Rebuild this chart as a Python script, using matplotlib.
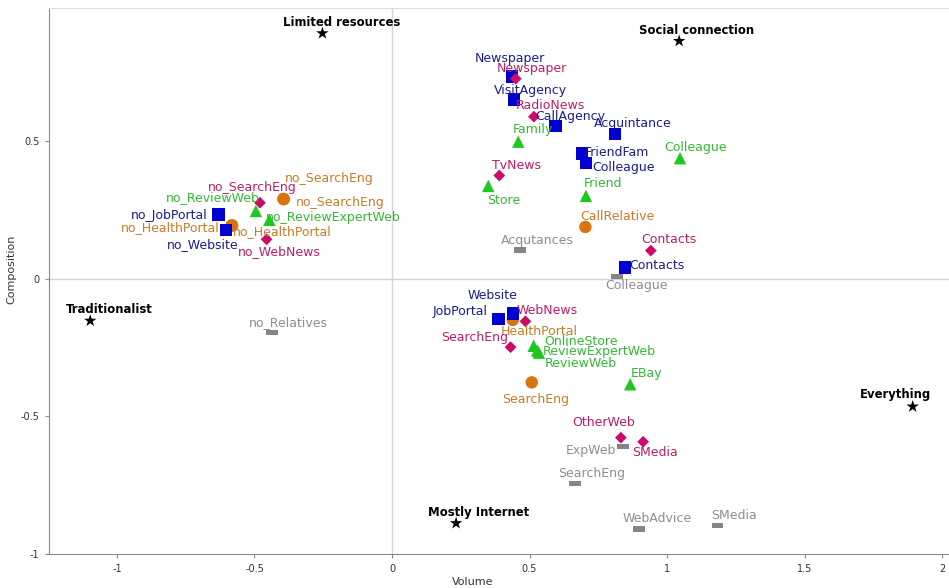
import matplotlib
matplotlib.use("Agg")
import matplotlib.pyplot as plt

# ---- data: coordinates on the two dimensions (Volume, Composition) ----
star_names = ["Limited resources", "Social connection", "Traditionalist", "Mostly Internet", "Everything"]
star_x = [-0.253, 1.044, -1.097, 0.233, 1.893]
star_y = [0.893, 0.865, -0.152, -0.888, -0.464]

blue_names = ["Newspaper", "VisitAgency", "CallAgency", "Acquintance", "FriendFam", "Colleague",
              "Contacts", "Website", "JobPortal", "no_JobPortal", "no_Website"]
blue_x = [0.437, 0.444, 0.595, 0.811, 0.690, 0.705, 0.847, 0.440, 0.387, -0.630, -0.604]
blue_y = [0.736, 0.653, 0.556, 0.527, 0.457, 0.421, 0.041, -0.125, -0.145, 0.235, 0.178]

pink_names = ["Newspaper", "RadioNews", "TvNews", "Contacts", "WebNews", "SearchEng",
              "OtherWeb", "SMedia", "no_SearchEng", "no_WebNews"]
pink_x = [0.450, 0.516, 0.390, 0.941, 0.485, 0.431, 0.832, 0.913, -0.480, -0.456]
pink_y = [0.728, 0.590, 0.376, 0.103, -0.154, -0.248, -0.577, -0.592, 0.277, 0.144]

green_names = ["Family", "Colleague", "Store", "Friend", "OnlineStore", "ReviewExpertWeb",
               "ReviewWeb", "EBay", "no_ReviewWeb", "no_ReviewExpertWeb"]
green_x = [0.459, 1.047, 0.350, 0.705, 0.515, 0.534, 0.528, 0.866, -0.495, -0.446]
green_y = [0.499, 0.439, 0.338, 0.302, -0.243, -0.268, -0.260, -0.383, 0.247, 0.215]

orange_names = ["CallRelative", "HealthPortal", "SearchEng", "no_SearchEng", "no_SearchEng",
                "no_HealthPortal", "no_HealthPortal"]
orange_x = [0.703, 0.439, 0.508, -0.395, -0.393, -0.583, -0.581]
orange_y = [0.189, -0.149, -0.376, 0.291, 0.290, 0.195, 0.194]

gray_names = ["Acqutances", "Colleague", "no_Relatives", "ExpWeb", "SearchEng", "WebAdvice", "SMedia"]
gray_x = [0.465, 0.819, -0.437, 0.840, 0.666, 0.897, 1.184]
gray_y = [0.105, 0.008, -0.194, -0.610, -0.743, -0.909, -0.895]

# ---- label placement: (dx, dy) of label centre from its marker, in pixels (y downwards) ----
star_off = [(19, -11), (17, -11), (19, -11), (22, -11), (-17, -12)]
blue_off = [(-2, -18), (16, -9), (15, -10), (18, -10), (35, -1), (38, 4),
            (32, -2), (-21, -18), (-38, -7), (-49, 1), (-23, 15)]
pink_off = [(16, -10), (16, -11), (17, -10), (18, -11), (22, -11), (-36, -10),
            (-17, -15), (12, 11), (-8, -15), (13, 12)]
green_off = [(15, -12), (16, -11), (15, 15), (17, -12), (47, -4), (60, -1),
             (44, 13), (16, -11), (-43, -13), (64, -2)]
orange_off = [(32, -10), (26, 12), (4, 17), (46, -20), (56, 3), (-61, 2), (50, 6)]
gray_off = [(17, -10), (19, 9), (17, -10), (-32, 4), (16, -10), (18, -10), (16, -10)]

plt.rcParams["font.family"] = ["DejaVu Sans"]

fig = plt.figure(figsize=(9.49, 5.88), dpi=100)
ax = fig.add_axes([49 / 949, 34 / 588, 900 / 949, 546 / 588])
ax.set_xlim(-1.247, 2.025)
ax.set_ylim(-1.0, 0.985)

# reference lines through the origin
ax.axhline(0, color="#d4d4d4", lw=1.0, zorder=0)
ax.axvline(0, color="#d4d4d4", lw=1.0, zorder=0)

label_fs = 9.0

def draw_series(xs, ys, names, offs, marker, size, mcolor, tcolor, bold=False, fs=label_fs):
    ax.scatter(xs, ys, marker=marker, s=size, color=mcolor, edgecolors="none", zorder=3)
    for x, y, name, (dx, dy) in zip(xs, ys, names, offs):
        ax.annotate(name, (x, y), xytext=(dx, -dy), textcoords="offset pixels",
                    ha="center", va="center", color=tcolor, fontsize=fs,
                    fontweight="bold" if bold else "normal", zorder=4)

bar_marker = [(-1, -0.45), (1, -0.45), (1, 0.45), (-1, 0.45), (-1, -0.45)]

draw_series(gray_x, gray_y, gray_names, gray_off, bar_marker, 70, "#858585", "#8e8e8e")
draw_series(orange_x, orange_y, orange_names, orange_off, "o", 80, "#d9740f", "#c97c26")
draw_series(green_x, green_y, green_names, green_off, "^", 80, "#1fc81f", "#34b834")
draw_series(blue_x, blue_y, blue_names, blue_off, "s", 82, "#0000d0", "#1c1c8c")
draw_series(pink_x, pink_y, pink_names, pink_off, "D", 36, "#cc0a6a", "#b81e6c")
draw_series(star_x, star_y, star_names, star_off, "*", 90, "black", "black", bold=True, fs=8.4)

# frame
ax.spines["right"].set_visible(False)
ax.spines["top"].set_color("#dcdcdc")
ax.spines["left"].set_color("#8a8a8a")
ax.spines["bottom"].set_color("#8a8a8a")

ax.set_xticks([-1, -0.5, 0, 0.5, 1, 1.5, 2])
ax.set_xticklabels(["-1", "-0.5", "0", "0.5", "1", "1.5", "2"])
ax.set_yticks([-1, -0.5, 0, 0.5])
ax.set_yticklabels(["-1", "-0.5", "0", "0.5"])
ax.tick_params(axis="both", length=3, width=0.8, color="#8a8a8a", labelsize=7,
               labelcolor="#333333", pad=4)

ax.set_xlabel("Volume", fontsize=8, color="#333333")
ax.set_ylabel("Composition", fontsize=8, color="#333333")
ax.xaxis.set_label_coords((473 - 49) / 900, -0.043)
ax.yaxis.set_label_coords(-0.036, (580 - 295) / 546)

fig.savefig("out.png", dpi=100)
